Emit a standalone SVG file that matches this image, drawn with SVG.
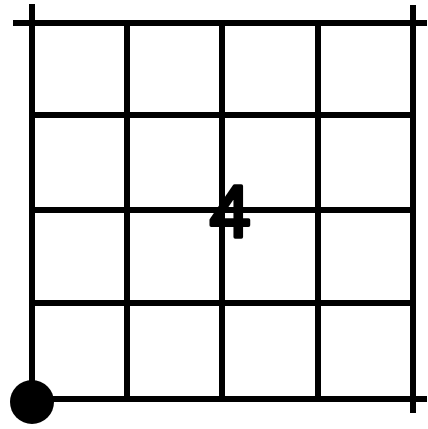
<svg xmlns="http://www.w3.org/2000/svg" width="428" height="429" viewBox="0 0 428 429">
<style>
.g{stroke:#000;stroke-width:6;stroke-linecap:butt;fill:none}
.t{font-family:"Liberation Sans",Arial,sans-serif;font-weight:normal;font-size:74px;fill:#000;stroke:#000;stroke-width:3.5;stroke-linejoin:round}
</style>
<rect width="428" height="429" fill="#fff"/>
<g id="grid" class="g">
<line x1="13" y1="23" x2="427" y2="23"/>
<line x1="32" y1="115" x2="413" y2="115"/>
<line x1="32" y1="210" x2="413" y2="210"/>
<line x1="32" y1="303" x2="413" y2="303"/>
<line x1="32" y1="399" x2="427" y2="399"/>
<line x1="32" y1="4" x2="32" y2="399"/>
<line x1="127" y1="23" x2="127" y2="399"/>
<line x1="222" y1="23" x2="222" y2="399"/>
<line x1="318" y1="23" x2="318" y2="399"/>
<line x1="413" y1="5" x2="413" y2="413"/>
</g>
<g id="start">
<circle cx="32" cy="402" r="22" fill="#000"/>
</g>
<g id="label">
<text class="t" x="230" y="237" text-anchor="middle">4</text>
</g>
</svg>
